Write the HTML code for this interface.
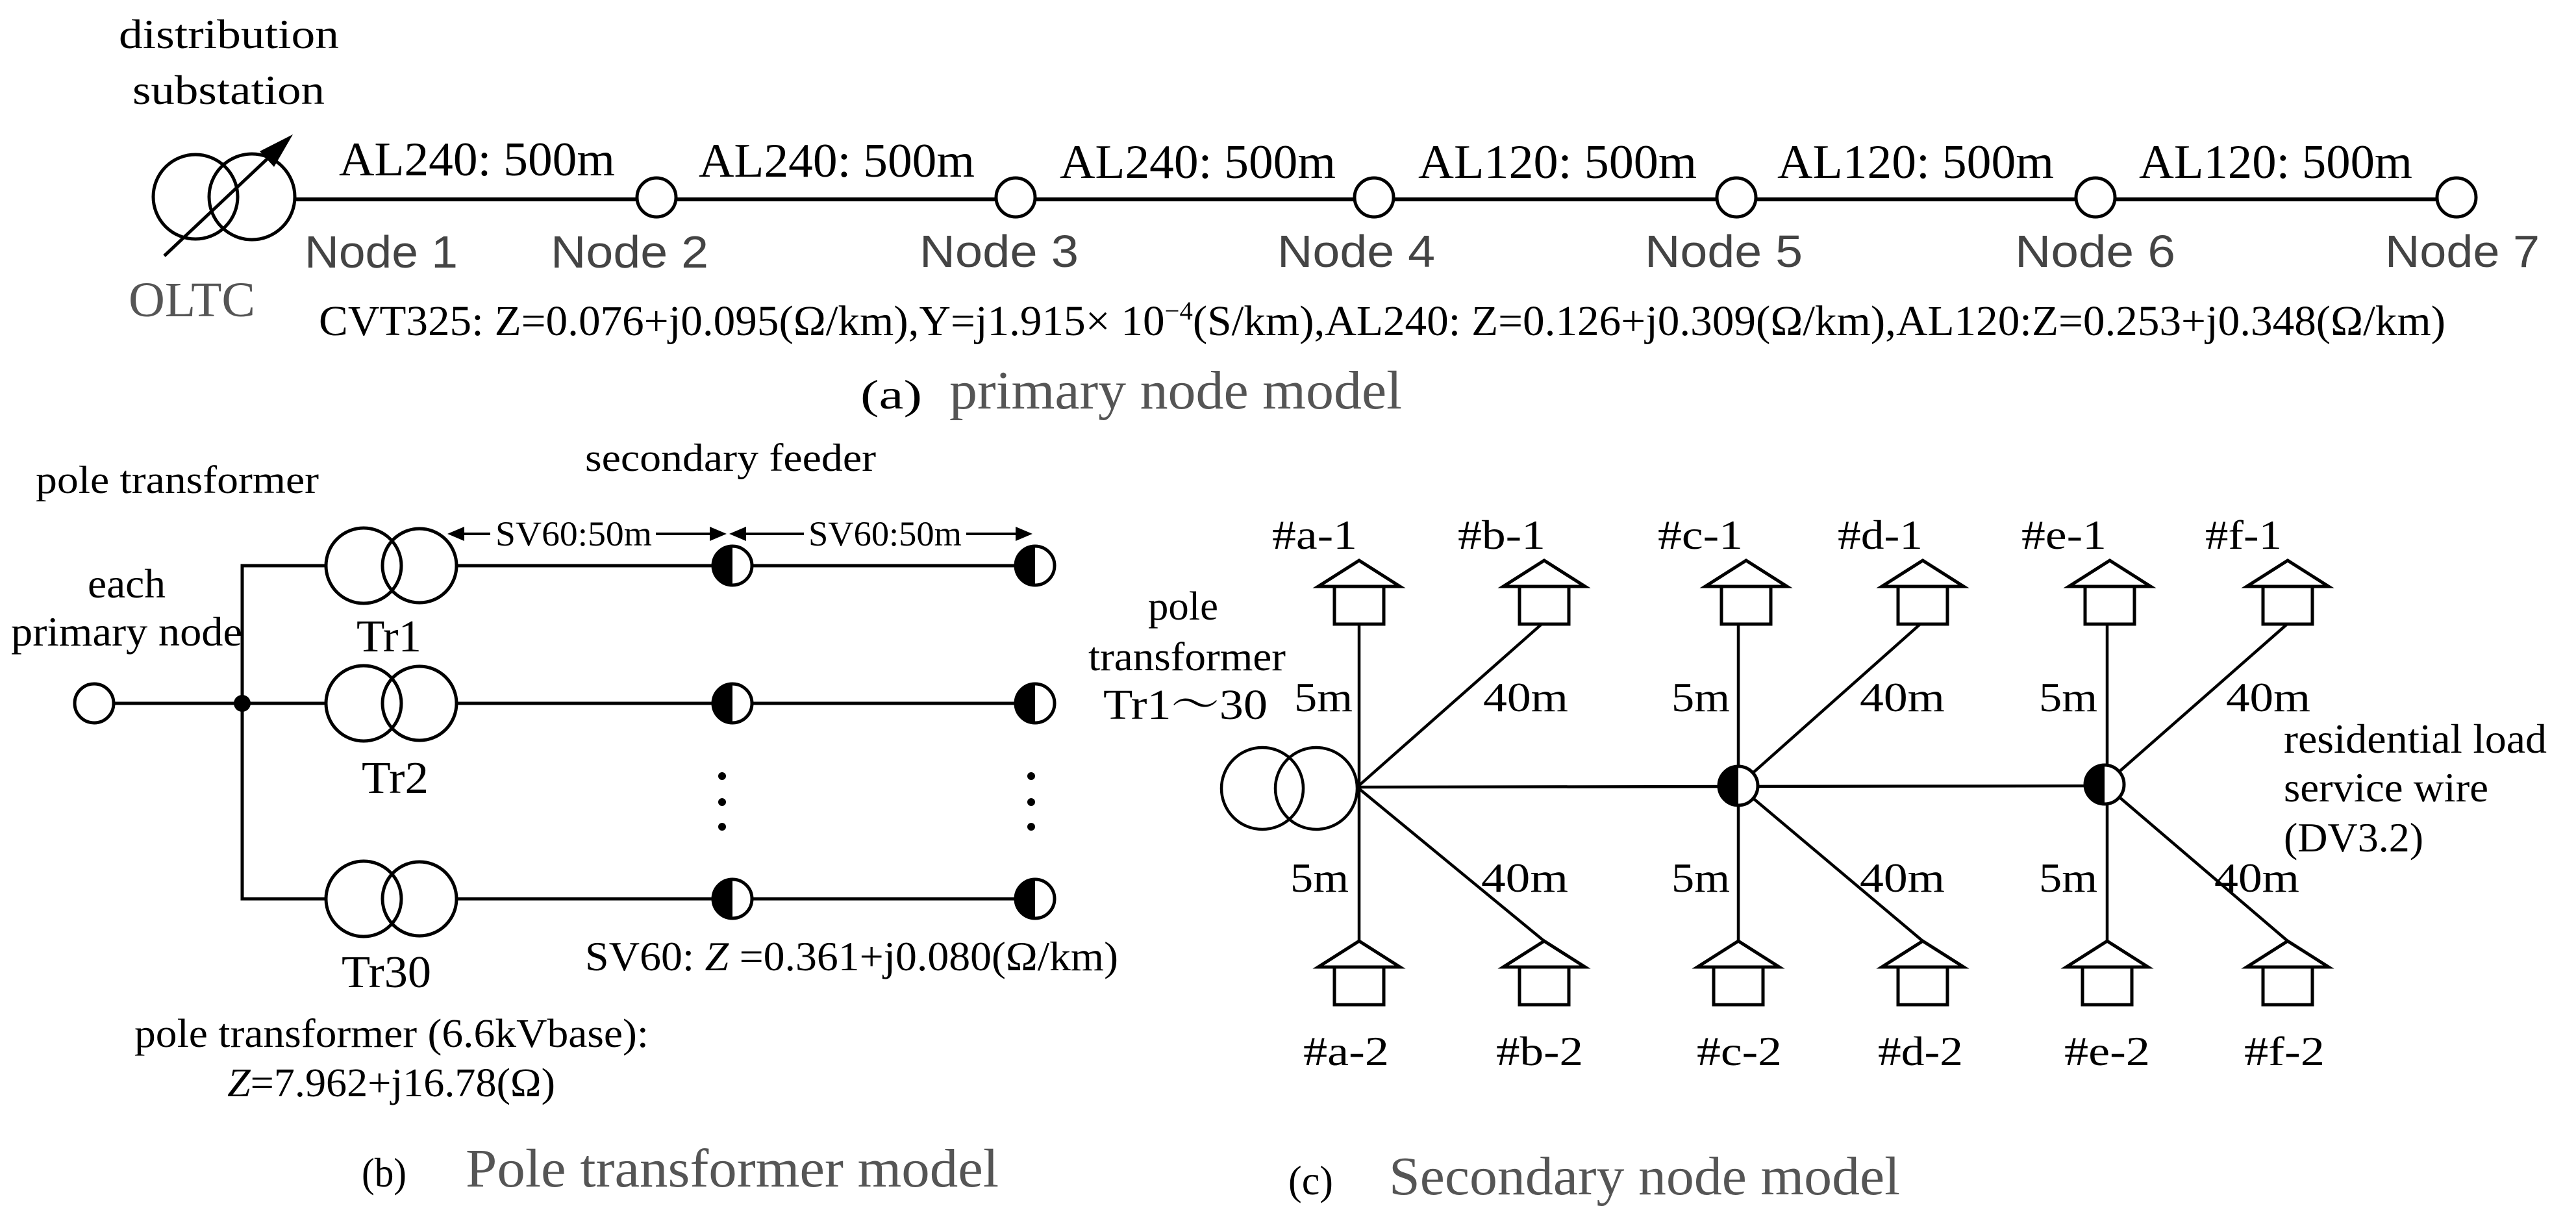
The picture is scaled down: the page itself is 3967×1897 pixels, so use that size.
<!DOCTYPE html>
<html><head><meta charset="utf-8"><style>
html,body{margin:0;padding:0;background:#fff;}
svg{display:block;}
text{font-family:"Liberation Serif","Noto Serif CJK SC",serif;}
.a{font-family:"Liberation Sans",sans-serif;fill:#444;}
</style></head><body>
<svg width="3967" height="1897" viewBox="0 0 3967 1897" xmlns="http://www.w3.org/2000/svg">
<defs>
<g id="half"><circle cx="0" cy="0" r="30" fill="#fff" stroke="#000" stroke-width="5"/><path d="M0,-30 A30,30 0 0 0 0,30 Z" fill="#000"/></g>
<g id="house" fill="#fff" stroke="#000" stroke-width="5"><polygon points="0,0 -63,40 63,40"/><rect x="-38" y="40" width="76" height="58"/></g>
</defs>

<!-- (a) primary -->
<text x="183" y="74" font-size="64" textLength="339" lengthAdjust="spacingAndGlyphs">distribution</text>
<text x="204" y="160" font-size="64" textLength="296" lengthAdjust="spacingAndGlyphs">substation</text>
<g fill="none" stroke="#000" stroke-width="5">
<circle cx="301" cy="303" r="65"/><circle cx="388" cy="303" r="66"/>
<line x1="253" y1="394" x2="425" y2="232"/>
<line x1="454" y1="307" x2="3752" y2="307" stroke-width="6"/>
</g>
<polygon points="451,207 422,257 400,233" fill="#000"/>
<g fill="#fff" stroke="#000" stroke-width="5">
<circle cx="1011" cy="304" r="30"/><circle cx="1564" cy="304" r="30"/><circle cx="2116" cy="304" r="30"/>
<circle cx="2674" cy="304" r="30"/><circle cx="3227" cy="304" r="30"/><circle cx="3783" cy="304" r="30"/>
</g>
<g font-size="74">
<text x="522" y="270" textLength="425" lengthAdjust="spacingAndGlyphs">AL240:  500m</text>
<text x="1076" y="272" textLength="425" lengthAdjust="spacingAndGlyphs">AL240:  500m</text>
<text x="1632" y="274" textLength="425" lengthAdjust="spacingAndGlyphs">AL240:  500m</text>
<text x="2184" y="274" textLength="429" lengthAdjust="spacingAndGlyphs">AL120:  500m</text>
<text x="2737" y="274" textLength="426" lengthAdjust="spacingAndGlyphs">AL120:  500m</text>
<text x="3294" y="274" textLength="421" lengthAdjust="spacingAndGlyphs">AL120:  500m</text>
</g>
<g font-size="70" class="a">
<text class="a" x="469" y="412" textLength="236" lengthAdjust="spacingAndGlyphs">Node 1</text>
<text class="a" x="848" y="412" textLength="243" lengthAdjust="spacingAndGlyphs">Node 2</text>
<text class="a" x="1416" y="411" textLength="245" lengthAdjust="spacingAndGlyphs">Node 3</text>
<text class="a" x="1967" y="411" textLength="243" lengthAdjust="spacingAndGlyphs">Node 4</text>
<text class="a" x="2533" y="411" textLength="243" lengthAdjust="spacingAndGlyphs">Node 5</text>
<text class="a" x="3103" y="411" textLength="247" lengthAdjust="spacingAndGlyphs">Node 6</text>
<text class="a" x="3673" y="411" textLength="238" lengthAdjust="spacingAndGlyphs">Node 7</text>
</g>
<text x="198" y="487" font-size="76" fill="#555" textLength="195" lengthAdjust="spacingAndGlyphs">OLTC</text>
<text x="491" y="516" font-size="66" textLength="3275" lengthAdjust="spacingAndGlyphs">CVT325:  Z=0.076+j0.095(Ω/km),Y=j1.915× 10<tspan font-size="40" dy="-24">−4</tspan><tspan dy="24">(S/km),AL240:  Z=0.126+j0.309(Ω/km),AL120:Z=0.253+j0.348(Ω/km)</tspan></text>
<text x="1325" y="629" font-size="64" textLength="95" lengthAdjust="spacingAndGlyphs">(a)</text>
<text x="1462" y="629" font-size="84" fill="#555" textLength="697" lengthAdjust="spacingAndGlyphs">primary node model</text>

<!-- (b) pole transformer -->
<text x="55" y="759" font-size="60" textLength="436" lengthAdjust="spacingAndGlyphs">pole transformer</text>
<text x="901" y="725" font-size="60" textLength="448" lengthAdjust="spacingAndGlyphs">secondary feeder</text>
<g stroke="#000" stroke-width="4">
<line x1="700" y1="822" x2="755" y2="822"/><line x1="1010" y1="822" x2="1105" y2="822"/>
<line x1="1137" y1="822" x2="1238" y2="822"/><line x1="1488" y1="822" x2="1578" y2="822"/>
</g>
<g fill="#000">
<polygon points="689,822 715,811 715,833"/><polygon points="1119,822 1093,811 1093,833"/>
<polygon points="1123,822 1149,811 1149,833"/><polygon points="1590,822 1564,811 1564,833"/>
</g>
<text x="763" y="840" font-size="54" textLength="241" lengthAdjust="spacingAndGlyphs">SV60:50m</text>
<text x="1245" y="840" font-size="54" textLength="236" lengthAdjust="spacingAndGlyphs">SV60:50m</text>
<g fill="none" stroke="#000" stroke-width="5">
<polyline points="502,871 373,871 373,1384 502,1384"/>
<line x1="175" y1="1083" x2="502" y2="1083"/>
<line x1="703" y1="871" x2="1594" y2="871"/>
<line x1="703" y1="1083" x2="1594" y2="1083"/>
<line x1="703" y1="1384" x2="1594" y2="1384"/>
<circle cx="560" cy="871" r="58"/><circle cx="646" cy="871" r="57"/>
<circle cx="560" cy="1083" r="58"/><circle cx="646" cy="1083" r="57"/>
<circle cx="560" cy="1384" r="58"/><circle cx="646" cy="1384" r="57"/>
</g>
<circle cx="145" cy="1083" r="30" fill="#fff" stroke="#000" stroke-width="5"/>
<circle cx="373" cy="1083" r="13" fill="#000"/>
<use href="#half" x="1128" y="871"/><use href="#half" x="1594" y="871"/>
<use href="#half" x="1128" y="1083"/><use href="#half" x="1594" y="1083"/>
<use href="#half" x="1128" y="1384"/><use href="#half" x="1594" y="1384"/>
<g fill="#000">
<circle cx="1112" cy="1195" r="6"/><circle cx="1112" cy="1235" r="6"/><circle cx="1112" cy="1273" r="6"/>
<circle cx="1588" cy="1195" r="6"/><circle cx="1588" cy="1235" r="6"/><circle cx="1588" cy="1273" r="6"/>
</g>
<text x="135" y="920" font-size="64" textLength="120" lengthAdjust="spacingAndGlyphs">each</text>
<text x="17" y="994" font-size="64" textLength="356" lengthAdjust="spacingAndGlyphs">primary node</text>
<text x="549" y="1003" font-size="70" textLength="100" lengthAdjust="spacingAndGlyphs">Tr1</text>
<text x="557" y="1221" font-size="70" textLength="103" lengthAdjust="spacingAndGlyphs">Tr2</text>
<text x="526" y="1520" font-size="70" textLength="138" lengthAdjust="spacingAndGlyphs">Tr30</text>
<text x="901" y="1494" font-size="64" textLength="821" lengthAdjust="spacingAndGlyphs">SV60: <tspan font-style="italic">Z</tspan> =0.361+j0.080(Ω/km)</text>
<text x="207" y="1612" font-size="62" textLength="792" lengthAdjust="spacingAndGlyphs">pole transformer (6.6kVbase):</text>
<text x="350" y="1688" font-size="62" textLength="505" lengthAdjust="spacingAndGlyphs"><tspan font-style="italic">Z</tspan>=7.962+j16.78(Ω)</text>
<text x="557" y="1827" font-size="64" textLength="69" lengthAdjust="spacingAndGlyphs">(b)</text>
<text x="717" y="1827" font-size="84" fill="#555" textLength="821" lengthAdjust="spacingAndGlyphs">Pole transformer model</text>

<!-- (c) secondary -->
<text x="1768" y="954" font-size="62" textLength="108" lengthAdjust="spacingAndGlyphs">pole</text>
<text x="1676" y="1032" font-size="62" textLength="304" lengthAdjust="spacingAndGlyphs">transformer</text>
<text x="1699" y="1107" font-size="66" textLength="253" lengthAdjust="spacingAndGlyphs">Tr1～30</text>
<g fill="none" stroke="#000" stroke-width="4.5">
<circle cx="1944" cy="1214" r="63"/><circle cx="2027" cy="1214" r="63"/>
<line x1="2090" y1="1212" x2="3241" y2="1210"/>
<line x1="2093" y1="960" x2="2093" y2="1449"/>
<line x1="2677" y1="960" x2="2677" y2="1449"/>
<line x1="3245" y1="960" x2="3245" y2="1449"/>
<line x1="2090" y1="1212" x2="2373" y2="962"/>
<line x1="2090" y1="1212" x2="2378" y2="1449"/>
<line x1="2677" y1="1210" x2="2956" y2="962"/>
<line x1="2677" y1="1210" x2="2961" y2="1449"/>
<line x1="3241" y1="1208" x2="3521" y2="962"/>
<line x1="3241" y1="1208" x2="3523" y2="1449"/>
</g>
<use href="#half" x="2677" y="1210"/><use href="#half" x="3241" y="1208"/>
<use href="#house" x="2093" y="863"/><use href="#house" x="2378" y="863"/>
<use href="#house" x="2689" y="863"/><use href="#house" x="2961" y="863"/>
<use href="#house" x="3249" y="863"/><use href="#house" x="3523" y="863"/>
<use href="#house" x="2093" y="1449"/><use href="#house" x="2378" y="1449"/>
<use href="#house" x="2677" y="1449"/><use href="#house" x="2961" y="1449"/>
<use href="#house" x="3245" y="1449"/><use href="#house" x="3523" y="1449"/>
<g font-size="64">
<text x="1959" y="845" textLength="131" lengthAdjust="spacingAndGlyphs">#a-1</text>
<text x="2245" y="845" textLength="135" lengthAdjust="spacingAndGlyphs">#b-1</text>
<text x="2553" y="845" textLength="131" lengthAdjust="spacingAndGlyphs">#c-1</text>
<text x="2830" y="845" textLength="131" lengthAdjust="spacingAndGlyphs">#d-1</text>
<text x="3113" y="845" textLength="131" lengthAdjust="spacingAndGlyphs">#e-1</text>
<text x="3396" y="845" textLength="118" lengthAdjust="spacingAndGlyphs">#f-1</text>
<text x="2007" y="1640" textLength="132" lengthAdjust="spacingAndGlyphs">#a-2</text>
<text x="2304" y="1640" textLength="134" lengthAdjust="spacingAndGlyphs">#b-2</text>
<text x="2613" y="1640" textLength="131" lengthAdjust="spacingAndGlyphs">#c-2</text>
<text x="2892" y="1640" textLength="131" lengthAdjust="spacingAndGlyphs">#d-2</text>
<text x="3179" y="1640" textLength="132" lengthAdjust="spacingAndGlyphs">#e-2</text>
<text x="3456" y="1640" textLength="124" lengthAdjust="spacingAndGlyphs">#f-2</text>
<text x="1993" y="1095" textLength="90" lengthAdjust="spacingAndGlyphs">5m</text>
<text x="2284" y="1095" textLength="131" lengthAdjust="spacingAndGlyphs">40m</text>
<text x="2574" y="1095" textLength="90" lengthAdjust="spacingAndGlyphs">5m</text>
<text x="2864" y="1095" textLength="131" lengthAdjust="spacingAndGlyphs">40m</text>
<text x="3140" y="1095" textLength="90" lengthAdjust="spacingAndGlyphs">5m</text>
<text x="3428" y="1095" textLength="130" lengthAdjust="spacingAndGlyphs">40m</text>
<text x="1987" y="1373" textLength="90" lengthAdjust="spacingAndGlyphs">5m</text>
<text x="2281" y="1373" textLength="134" lengthAdjust="spacingAndGlyphs">40m</text>
<text x="2574" y="1373" textLength="90" lengthAdjust="spacingAndGlyphs">5m</text>
<text x="2864" y="1373" textLength="131" lengthAdjust="spacingAndGlyphs">40m</text>
<text x="3140" y="1373" textLength="90" lengthAdjust="spacingAndGlyphs">5m</text>
<text x="3410" y="1373" textLength="131" lengthAdjust="spacingAndGlyphs">40m</text>
</g>
<text x="3517" y="1159" font-size="64" textLength="405" lengthAdjust="spacingAndGlyphs">residential load</text>
<text x="3517" y="1234" font-size="64" textLength="315" lengthAdjust="spacingAndGlyphs">service wire</text>
<text x="3517" y="1311" font-size="64" textLength="215" lengthAdjust="spacingAndGlyphs">(DV3.2)</text>
<text x="1984" y="1839" font-size="64" textLength="69" lengthAdjust="spacingAndGlyphs">(c)</text>
<text x="2139" y="1839" font-size="84" fill="#555" textLength="787" lengthAdjust="spacingAndGlyphs">Secondary node model</text>
</svg>
</body></html>
